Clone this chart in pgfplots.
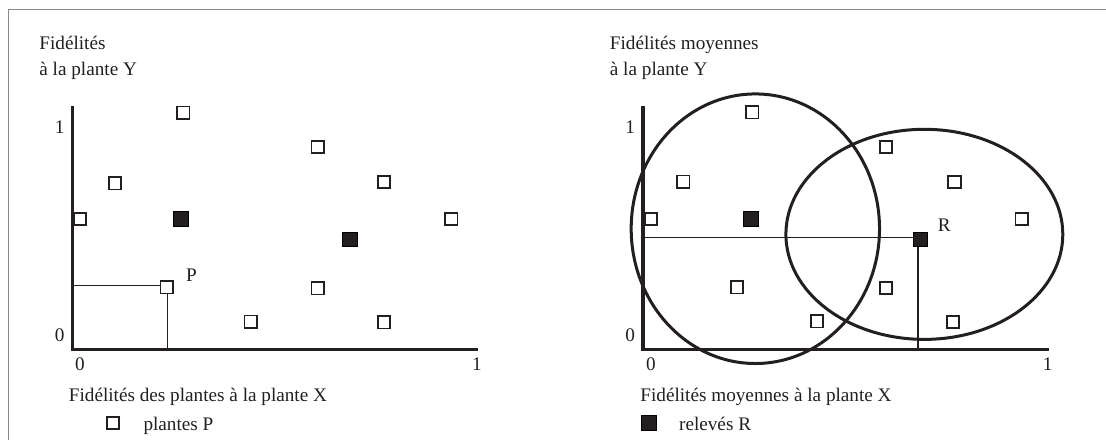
\documentclass[border=0pt]{standalone}
\usepackage{fontspec}
\setmainfont{Liberation Serif}
\usepackage{pgfplots}
\pgfplotsset{compat=1.18}
\definecolor{ink}{HTML}{231F20}
\definecolor{framegray}{HTML}{8A8A8A}
\pgfplotsset{
  panel/.style={
    scale only axis, anchor=south west, clip=false,
    height=121.75pt, ymin=-0.0697, ymax=1.101,
    axis line style={draw=none}, tick style={draw=none},
    xtick={0,1}, ytick={0,1},
    /pgf/number format/assume math mode=true,
    ticklabel style={font=\fontsize{9.6pt}{11.5pt}\selectfont, text=ink},
    xticklabel style={anchor=base, yshift=-10.4pt},
    yticklabel style={anchor=base, xshift=-6.4pt, yshift=-3.2pt},
  },
  openmark/.style={only marks, mark=square*, mark size=3.1pt,
    mark options={line width=0.85pt, draw=ink, fill=white}},
  fullmark/.style={only marks, mark=square*, mark size=3.6pt,
    mark options={draw=none, fill=ink}},
  guide/.style={ink, line width=0.6pt, no markers},
  thick axis/.style={ink, line width=1.7pt, no markers, line join=miter},
}
\begin{document}
\begin{tikzpicture}[x=0.5pt, y=-0.5pt, font=\fontsize{9.6pt}{11.5pt}\selectfont, text=ink]
\useasboundingbox (0,0) rectangle (1106,440);
\draw[framegray, line width=0.6pt] (8.3,440) -- (8.3,9.7) -- (1106,9.7);

% ---------------- left panel ----------------
\begin{axis}[panel,
  at={(36.25pt,-174.75pt)}, width=202.75pt,
  xmin=-0.0189, xmax=1.0025,
]
\addplot[thick axis] coordinates {(-0.0189,1.101) (-0.0189,-0.0697) (1.0025,-0.0697)};
\addplot[guide] coordinates {(-0.0189,0.239) (0.221,0.239) (0.221,-0.0697)};
% plantes P
\addplot[openmark] coordinates {
  (0.260,1.069) (0.599,0.904) (0.088,0.729) (0.766,0.736) (0.000,0.558)
  (0.935,0.558) (0.218,0.229) (0.599,0.225) (0.430,0.064) (0.766,0.061)};
% relevés R
\addplot[fullmark] coordinates {(0.254,0.558) (0.680,0.460)};
\node[anchor=base west, inner sep=0pt] at (axis cs:0.266,0.255) {P};
% key
\addplot[openmark] coordinates {(0.0831,-0.423)};
\node[anchor=base west, inner sep=0pt] at (axis cs:0.159,-0.457) {plantes P};
\end{axis}

% ---------------- right panel ----------------
\begin{axis}[panel,
  at={(321.5pt,-174.75pt)}, width=203.15pt,
  xmin=-0.0202, xmax=1.004,
]
\addplot[thick axis] coordinates {(-0.0202,1.101) (-0.0202,-0.0697) (1.004,-0.0697)};
\addplot[guide] coordinates {(-0.0202,0.470) (0.673,0.470) (0.673,-0.0697)};
\addplot[openmark] coordinates {
  (0.255,1.071) (0.592,0.904) (0.081,0.737) (0.765,0.736) (0.000,0.558)
  (0.934,0.558) (0.217,0.229) (0.592,0.226) (0.418,0.066) (0.761,0.063)};
\addplot[fullmark] coordinates {(0.252,0.558) (0.679,0.460)};
\draw[ink, line width=1.5pt] (axis cs:0.263,0.511) ellipse [x radius=0.313, y radius=0.648];
\draw[ink, line width=1.5pt] (axis cs:0.689,0.484) ellipse [x radius=0.349, y radius=0.505];
\node[anchor=base west, inner sep=0pt] at (axis cs:0.722,0.497) {R};
% key
\addplot[fullmark] coordinates {(-0.0058,-0.4216)};
\node[anchor=base west, inner sep=0pt] at (axis cs:0.0698,-0.457) {relevés R};
\end{axis}

% ---------------- titles ----------------
\node[anchor=base west, inner sep=0pt] at (39,49.3) {Fidélités};
\node[anchor=base west, inner sep=0pt] at (39,75) {à la plante Y};
\node[anchor=base west, inner sep=0pt] at (609.5,49.3) {Fidélités moyennes};
\node[anchor=base west, inner sep=0pt] at (609.5,75) {à la plante Y};
\node[anchor=base west, inner sep=0pt] at (68.5,401.5) {Fidélités des plantes à la plante X};
\node[anchor=base west, inner sep=0pt] at (640,401.5) {Fidélités moyennes à la plante X};
\end{tikzpicture}
\end{document}
